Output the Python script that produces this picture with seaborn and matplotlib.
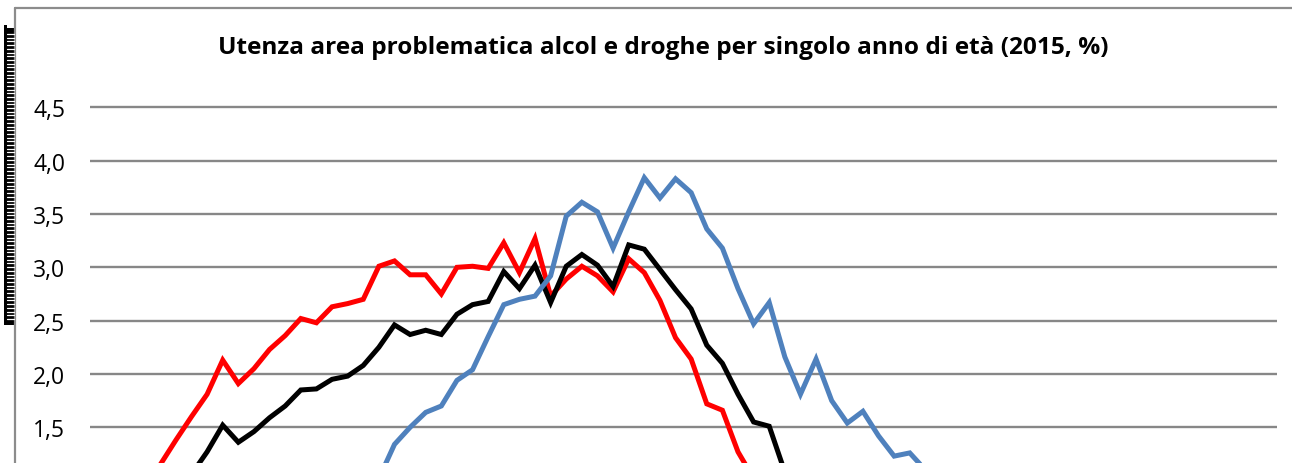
import matplotlib
matplotlib.use("Agg")
import matplotlib.pyplot as plt
import numpy as np
import pandas as pd
import seaborn as sns
from matplotlib.lines import Line2D
from matplotlib.patches import Rectangle
from matplotlib.ticker import FixedLocator, FuncFormatter

# ---- data (single year of age) ----
ages = list(range(15, 91))
red_vals = [0.55, 0.70, 0.85, 0.98, 1.15, 1.38, 1.60, 1.81, 2.13, 1.91,
            2.05, 2.23, 2.36, 2.52, 2.48, 2.63, 2.66, 2.70, 3.01, 3.06,
            2.93, 2.93, 2.75, 3.00, 3.01, 2.99, 3.23, 2.95, 3.27, 2.73,
            2.89, 3.01, 2.92, 2.77, 3.08, 2.95, 2.69, 2.34, 2.14, 1.72,
            1.66, 1.27, 1.02, 0.95, 0.80, 0.75, 0.62, 0.55, 0.48, 0.42,
            0.38, 0.35, 0.31, 0.28, 0.25, 0.23, 0.21, 0.19, 0.17, 0.16,
            0.15, 0.14, 0.13, 0.12, 0.11, 0.10, 0.10, 0.09, 0.09, 0.08,
            0.08, 0.07, 0.07, 0.06, 0.06, 0.05]
black_vals = [0.45, 0.55, 0.65, 0.78, 0.88, 0.95, 1.06, 1.27, 1.52, 1.36,
              1.46, 1.59, 1.70, 1.85, 1.86, 1.95, 1.98, 2.08, 2.25, 2.46,
              2.37, 2.41, 2.37, 2.56, 2.65, 2.68, 2.96, 2.80, 3.02, 2.67,
              3.01, 3.12, 3.02, 2.82, 3.21, 3.17, 2.98, 2.79, 2.61, 2.27,
              2.10, 1.81, 1.55, 1.51, 1.08, 0.98, 0.90, 0.82, 0.74, 0.66,
              0.60, 0.55, 0.50, 0.45, 0.41, 0.37, 0.34, 0.31, 0.28, 0.26,
              0.24, 0.22, 0.20, 0.18, 0.17, 0.16, 0.15, 0.14, 0.13, 0.12,
              0.11, 0.10, 0.10, 0.09, 0.09, 0.08]
blue_vals = [0.30, 0.32, 0.35, 0.38, 0.40, 0.42, 0.45, 0.48, 0.52, 0.55,
             0.58, 0.62, 0.66, 0.70, 0.74, 0.78, 0.82, 0.88, 1.02, 1.34,
             1.50, 1.64, 1.70, 1.94, 2.04, 2.35, 2.65, 2.70, 2.73, 2.92,
             3.48, 3.61, 3.52, 3.18, 3.52, 3.84, 3.65, 3.83, 3.70, 3.36,
             3.18, 2.80, 2.47, 2.67, 2.16, 1.81, 2.14, 1.75, 1.54, 1.65,
             1.42, 1.23, 1.26, 1.10, 1.00, 0.92, 0.85, 0.78, 0.72, 0.66,
             0.60, 0.55, 0.50, 0.46, 0.42, 0.38, 0.35, 0.32, 0.29, 0.27,
             0.25, 0.23, 0.21, 0.19, 0.17, 0.15]
series_names = ["Alcol", "Totale", "Droghe"]
series_colors = ["#FF0000", "#000000", "#4F81BD"]
yticks = [1.5, 2.0, 2.5, 3.0, 3.5, 4.0, 4.5]
title = "Utenza area problematica alcol e droghe per singolo anno di età (2015, %)"

df = pd.concat([
    pd.DataFrame({"pos": range(len(ages)), "eta": ages, "valore": v, "serie": n})
    for n, v in zip(series_names, [red_vals, black_vals, blue_vals])
])

sns.set_theme(style="white")
plt.rcParams["font.family"] = ["Open Sans", "DejaVu Sans"]

W, H = 1292, 464
fig = plt.figure(figsize=(W / 100, H / 100), dpi=100)
# axes: plot area from x=90 to 1277 px, y value 5.0 at 55 px, bottom cut at image bottom
ax = fig.add_axes([90 / W, 0, (1276.7 - 90) / W, (H - 55) / H])

sns.lineplot(data=df, x="pos", y="valore", hue="serie", hue_order=series_names,
             palette=series_colors, linewidth=3.6, legend=False, ax=ax,
             estimator=None, sort=False)
for l in ax.lines:
    l.set_solid_joinstyle("miter")

ax.set_xlim(-0.5, len(ages) - 0.5)
ax.set_ylim(4.5 - (H - 108.3) / 106.67, 5.0)
ax.yaxis.set_major_locator(FixedLocator(yticks))
ax.yaxis.set_major_formatter(FuncFormatter(lambda v, p: f"{v:.1f}".replace(".", ",")))
ax.set_xticks([])
ax.set_xlabel("")
ax.set_ylabel("")
ax.grid(False)
ax.yaxis.grid(True, color="#878787", linewidth=1.7)
ax.set_axisbelow(True)
for s in ax.spines.values():
    s.set_visible(False)
ax.tick_params(axis="y", length=0, pad=18, labelsize=16.5, labelcolor="#000000")

# title
fig.text(663 / W, 1 - 48 / H, title, ha="center", va="center",
         fontsize=17.6, fontweight="bold", color="#000000")

# outer chart frame (left and top edges)
fig.add_artist(Line2D([15 / W, 15 / W], [0, 1 - 9 / H], transform=fig.transFigure,
                      color="#8C8C8C", linewidth=1.6))
fig.add_artist(Line2D([15 / W, 1], [1 - 9 / H, 1 - 9 / H], transform=fig.transFigure,
                      color="#8C8C8C", linewidth=1.6))

# black striped marker at the left edge
fig.add_artist(Rectangle((4 / W, 1 - 326 / H), 10 / W, (326 - 29) / H,
                         transform=fig.transFigure, facecolor="black", edgecolor="none"))
fig.add_artist(Rectangle((4 / W, 1 - 30 / H), 3 / W, 4 / H,
                         transform=fig.transFigure, facecolor="black", edgecolor="none"))
for yy in np.arange(35, 322, 3.7):
    fig.add_artist(Line2D([7 / W, 14 / W], [1 - yy / H, 1 - yy / H],
                          transform=fig.transFigure, color="white", linewidth=0.9))

fig.savefig("out.png", dpi=100, facecolor="white")
